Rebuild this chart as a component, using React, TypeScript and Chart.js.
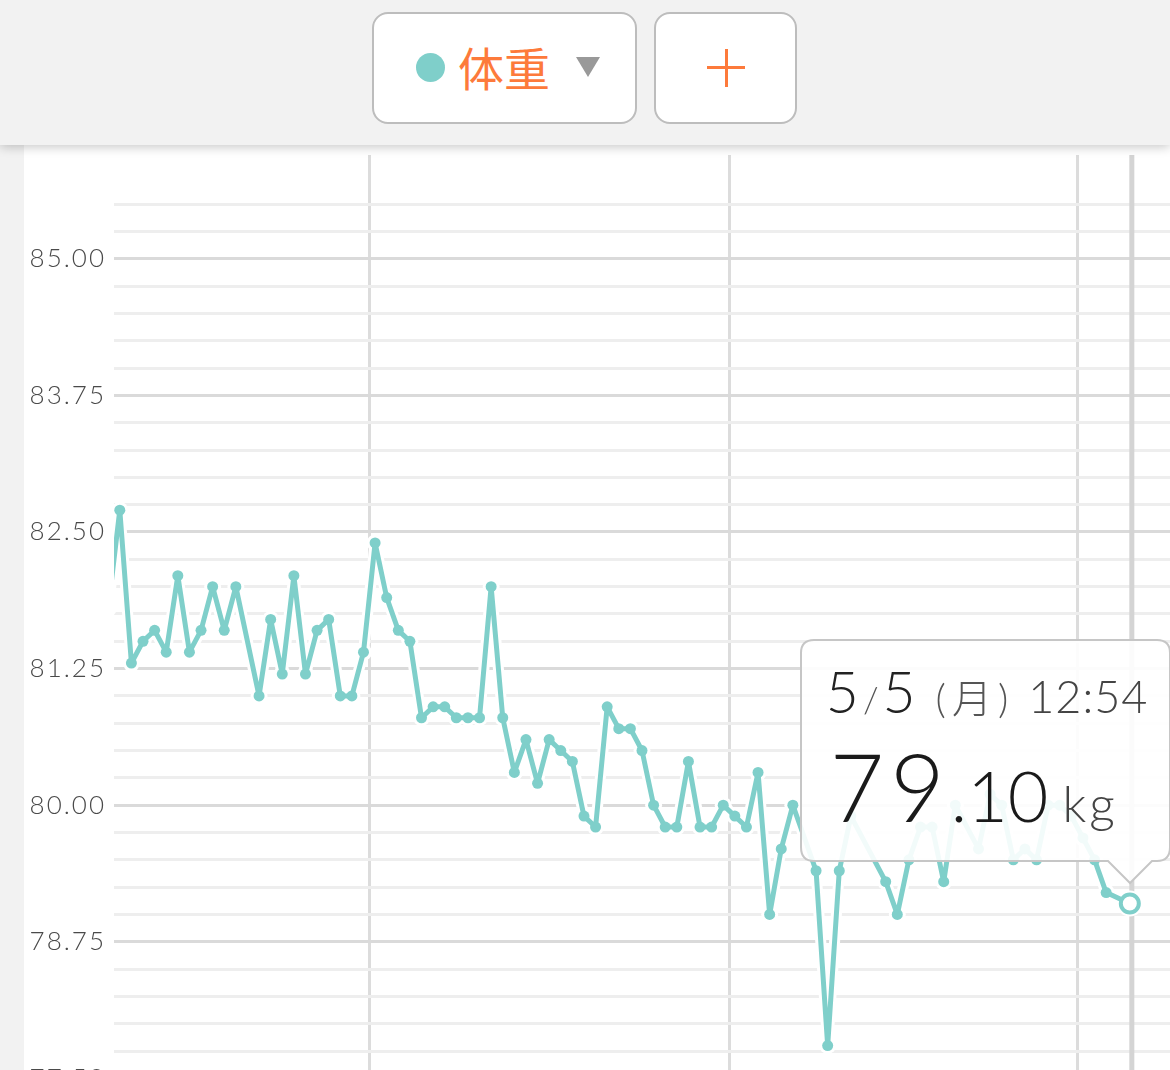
import React, { useEffect, useRef } from "react";
import { Chart, registerables } from "chart.js";

Chart.register(...registerables);

// ---- data ----
const YEAR = 2025;
const dates = [
  "2/6", "2/7", "2/8", "2/9", "2/10", "2/11", "2/12", "2/13", "2/14", "2/15", "2/16", "2/17",
  "2/19", "2/20", "2/21", "2/22", "2/23", "2/24", "2/25", "2/26", "2/27", "2/28",
  "3/1", "3/2", "3/3", "3/4", "3/5", "3/6", "3/7", "3/8", "3/9", "3/10", "3/11", "3/12", "3/13",
  "3/14", "3/15", "3/16", "3/17", "3/18", "3/19", "3/20", "3/21", "3/22", "3/23", "3/24", "3/25",
  "3/26", "3/27", "3/28", "3/29", "3/30", "3/31",
  "4/1", "4/2", "4/3", "4/4", "4/5", "4/6", "4/8", "4/9", "4/10", "4/11",
  "4/14", "4/15", "4/16", "4/17", "4/18", "4/19", "4/20",
  "4/22", "4/23", "4/24", "4/25", "4/26", "4/27", "4/28", "4/29", "4/30", "5/1", "5/2", "5/3", "5/5",
];
const weights = [
  81.8, 82.7, 81.3, 81.5, 81.6, 81.4, 82.1, 81.4, 81.6, 82.0, 81.6, 82.0,
  81.0, 81.7, 81.2, 82.1, 81.2, 81.6, 81.7, 81.0, 81.0, 81.4,
  82.4, 81.9, 81.6, 81.5, 80.8, 80.9, 80.9, 80.8, 80.8, 80.8, 82.0, 80.8, 80.3,
  80.6, 80.2, 80.6, 80.5, 80.4, 79.9, 79.8, 80.9, 80.7, 80.7, 80.5, 80.0,
  79.8, 79.8, 80.4, 79.8, 79.8, 80.0,
  79.9, 79.8, 80.3, 79.0, 79.6, 80.0, 79.4, 77.8, 79.4, 79.9,
  79.3, 79.0, 79.5, 79.8, 79.8, 79.3, 80.0,
  79.6, 80.1, 80.0, 79.5, 79.6, 79.5, 80.0, 80.0, 79.9, 79.7, 79.5, 79.2, 79.1,
];
const defaultTime = "12:00";
const selectedTime = "12:54";
const monthStarts = ["3/1", "4/1", "5/1"];
const viewStart = "2/7";
const viewDays = 91;
const yMin = 77.0;
const yMax = 85.95;
const yTopGrid = 85.5;
const yMinorStep = 0.25;
const yLabelStep = 1.25;
const weekdays = ["日", "月", "火", "水", "木", "金", "土"];
const unit = "kg";
const metricName = "体重";

// ---- helpers ----
const ORIGIN = Date.UTC(YEAR, 2, 1);
const parseMD = (md: string) => {
  const [m, d] = md.split("/").map(Number);
  return { m, d };
};
const dayOffset = (md: string) => {
  const { m, d } = parseMD(md);
  return (Date.UTC(YEAR, m - 1, d) - ORIGIN) / 86400000;
};
const timeFrac = (t: string) => {
  const [h, mi] = t.split(":").map(Number);
  return (h * 60 + mi) / 1440;
};
const isMajor = (v: number) => Math.abs(v / yLabelStep - Math.round(v / yLabelStep)) < 1e-6;

const TEAL = "#7fcfca";
const ORANGE = "#fd7a3b";
const LAST = dates.length - 1;

export default function App() {
  const canvasRef = useRef<HTMLCanvasElement | null>(null);
  const tipRef = useRef<HTMLDivElement | null>(null);

  useEffect(() => {
    const canvas = canvasRef.current!;
    const points = dates.map((d, i) => ({
      x: dayOffset(d) + timeFrac(i === LAST ? selectedTime : defaultTime),
      y: weights[i],
    }));

    const hoverPlugin = {
      id: "hoverLine",
      beforeDraw(chart: any) {
        try {
          (chart.ctx as any).letterSpacing = "2px";
        } catch (e) {}
      },
      beforeDatasetsDraw(chart: any) {
        const meta = chart.getDatasetMeta(0);
        const pt = meta.data[LAST];
        const { ctx, chartArea } = chart;
        ctx.save();
        ctx.strokeStyle = "#d4d4d4";
        ctx.lineWidth = 5;
        ctx.beginPath();
        ctx.moveTo(pt.x + 2, chartArea.top);
        ctx.lineTo(pt.x + 2, chartArea.bottom);
        ctx.stroke();
        ctx.restore();
      },
      afterRender(chart: any) {
        const meta = chart.getDatasetMeta(0);
        const pt = meta.data[LAST];
        const tip = tipRef.current;
        if (tip && pt) {
          tip.style.left = `${24 + pt.x - 330}px`;
          tip.style.top = `${145 + pt.y - 265}px`;
          tip.style.display = "block";
        }
      },
    };

    const clip = { left: 0, top: false, right: false, bottom: false } as any;
    const chart = new Chart(canvas, {
      type: "line",
      data: {
        datasets: [
          {
            data: points,
            borderColor: TEAL,
            borderWidth: 5,
            borderJoinStyle: "round",
            borderCapStyle: "round",
            tension: 0,
            pointRadius: (c: any) => (c.dataIndex === LAST ? 9 : 5.5),
            pointBackgroundColor: (c: any) => (c.dataIndex === LAST ? "#ffffff" : TEAL),
            pointBorderColor: TEAL,
            pointBorderWidth: (c: any) => (c.dataIndex === LAST ? 4 : 0),
            order: 0,
            clip,
          },
          {
            data: points,
            borderColor: "#ffffff",
            borderWidth: 11,
            borderJoinStyle: "round",
            borderCapStyle: "round",
            tension: 0,
            pointRadius: (c: any) => (c.dataIndex === LAST ? 13 : 8.5),
            pointBackgroundColor: "#ffffff",
            pointBorderWidth: 0,
            order: 1,
            clip,
          },
        ],
      },
      options: {
        animation: false,
        responsive: false,
        events: [],
        layout: { autoPadding: false, padding: { top: 10, bottom: 12, left: 0, right: 0 } },
        plugins: { legend: { display: false }, tooltip: { enabled: false } },
        scales: {
          x: {
            type: "linear",
            min: dayOffset(viewStart),
            max: dayOffset(viewStart) + viewDays,
            afterBuildTicks: (scale: any) => {
              scale.ticks = monthStarts.map((m) => ({ value: dayOffset(m) }));
            },
            ticks: { display: false },
            grid: { color: "#dcdcdc", lineWidth: 3, drawTicks: false },
            border: { display: false },
          },
          y: {
            type: "linear",
            min: yMin,
            max: yMax,
            afterBuildTicks: (scale: any) => {
              const ticks = [];
              const n = Math.round((yTopGrid - yMin) / yMinorStep);
              for (let i = 0; i <= n; i++) ticks.push({ value: +(yMin + i * yMinorStep).toFixed(2) });
              scale.ticks = ticks;
            },
            afterFit: (scale: any) => {
              scale.width = 90;
              scale.paddingTop = 0;
              scale.paddingBottom = 0;
            },
            ticks: {
              autoSkip: false,
              padding: 8,
              color: "#4a4a4a",
              font: { family: "Lato, 'DejaVu Sans', sans-serif", size: 26, weight: "300" as any },
              callback: (v: any) => (isMajor(Number(v)) ? Number(v).toFixed(2) : ""),
            },
            grid: {
              drawTicks: false,
              lineWidth: 3,
              color: (c: any) => (c.tick && isMajor(c.tick.value) ? "#dadada" : "#eeeeee"),
            },
            border: { display: false },
          },
        },
      } as any,
      plugins: [hoverPlugin],
    });
    return () => chart.destroy();
  }, []);

  const sel = parseMD(dates[LAST]);
  const wd = weekdays[new Date(Date.UTC(YEAR, sel.m - 1, sel.d)).getUTCDay()];
  const w = weights[LAST].toFixed(2);
  const [wInt, wDec] = w.split(".");

  const TW = 371;
  const TH = 222;
  const CX = 330;
  const r = 14;
  const path = `M ${r} 1 H ${TW - r} Q ${TW - 1} 1 ${TW - 1} ${r} V ${TH - r} Q ${TW - 1} ${TH} ${TW - r} ${TH} H ${CX + 22} L ${CX} ${TH + 22} L ${CX - 22} ${TH} H ${r} Q 1 ${TH} 1 ${TH - r} V ${r} Q 1 1 ${r} 1 Z`;
  const tipFont = "Lato, 'Noto Sans CJK JP', sans-serif";

  return (
    <div style={{ position: "fixed", inset: 0, overflow: "hidden", background: "#f2f2f2" }}>
      <div style={{ position: "absolute", left: 24, top: 145, width: 1146, height: 1000, background: "#ffffff" }}>
        <canvas ref={canvasRef} width={1146} height={1000} style={{ width: 1146, height: 1000, display: "block" }} />
      </div>
      <div
        style={{
          position: "absolute", left: 0, top: 0, width: 1170, height: 145, background: "#f2f2f2",
          boxShadow: "0 2px 10px rgba(0,0,0,0.22)", zIndex: 2,
        }}
      >
        <div
          style={{
            position: "absolute", left: 372, top: 12, width: 265, height: 112, boxSizing: "border-box",
            border: "2px solid #bdbdbd", borderRadius: 16, background: "#fff",
          }}
        >
          <div style={{ position: "absolute", left: 42, top: 39, width: 29, height: 29, borderRadius: "50%", background: TEAL }} />
          <div
            style={{
              position: "absolute", left: 84, top: 22, fontFamily: "'Noto Sans CJK JP', sans-serif",
              fontSize: 46, lineHeight: "60px", color: ORANGE, fontWeight: 400,
            }}
          >
            {metricName}
          </div>
          <div
            style={{
              position: "absolute", left: 202, top: 43, width: 0, height: 0,
              borderLeft: "12px solid transparent", borderRight: "12px solid transparent", borderTop: "20px solid #999",
            }}
          />
        </div>
        <div
          style={{
            position: "absolute", left: 654, top: 12, width: 143, height: 112, boxSizing: "border-box",
            border: "2px solid #bdbdbd", borderRadius: 16, background: "#fff",
          }}
        >
          <div style={{ position: "absolute", left: 51, top: 52, width: 38, height: 3, background: ORANGE }} />
          <div style={{ position: "absolute", left: 69, top: 35, width: 3, height: 38, background: ORANGE }} />
        </div>
      </div>
      <div ref={tipRef} style={{ position: "absolute", left: 798, top: 638, width: TW, height: TH + 24, display: "none", zIndex: 3 }}>
        <svg width={TW + 2} height={TH + 26} style={{ position: "absolute", left: 0, top: 0 }}>
          <path d={path} fill="rgba(255,255,255,0.9)" stroke="#c6c6c6" strokeWidth={2} />
        </svg>
        <div
          style={{
            position: "absolute", left: 26, top: 24, display: "flex", alignItems: "baseline",
            fontFamily: tipFont, fontWeight: 300, whiteSpace: "nowrap", lineHeight: 1,
          }}
        >
          <span style={{ fontSize: 57, color: "#222" }}>{sel.m}</span>
          <span style={{ fontSize: 36, color: "#555", margin: "0 4px" }}>/</span>
          <span style={{ fontSize: 57, color: "#222" }}>{sel.d}</span>
          <span style={{ fontSize: 40, color: "#555", marginLeft: 20, letterSpacing: 6 }}>({wd})</span>
          <span style={{ fontSize: 45, color: "#444", marginLeft: 14, letterSpacing: 1 }}>{selectedTime}</span>
        </div>
        <div
          style={{
            position: "absolute", left: 30, top: 100, display: "flex", alignItems: "baseline",
            fontFamily: tipFont, fontWeight: 300, whiteSpace: "nowrap", lineHeight: 1,
          }}
        >
          <span style={{ fontSize: 94, color: "#1a1a1a", letterSpacing: 6 }}>{wInt}</span>
          <span style={{ fontSize: 70, color: "#1a1a1a" }}>.{wDec}</span>
          <span style={{ fontSize: 50, color: "#444", marginLeft: 14, letterSpacing: 3 }}>{unit}</span>
        </div>
      </div>
    </div>
  );
}
